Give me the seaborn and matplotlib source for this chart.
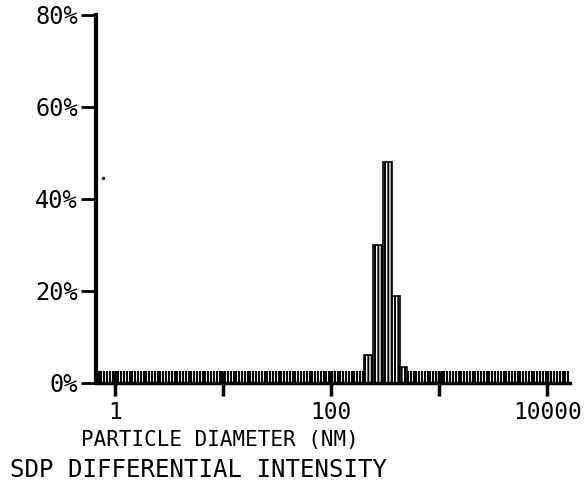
import seaborn as sns
import matplotlib
matplotlib.use("Agg")
import matplotlib.pyplot as plt
from matplotlib.ticker import FixedLocator, NullFormatter
import numpy as np
import pandas as pd

# size distribution
diameter_nm = [222, 270, 334, 400, 479]
intensity_pct = [6, 30, 48, 19, 3.5]

# lone dot near the y axis
stray_d = [0.78]
stray_pct = [44.5]

x_ticks = [1, 10, 100, 1000, 10000]
x_labels = ["1", "", "100", "", "10000"]
y_ticks = [0, 20, 40, 60, 80]
y_labels = ["0%", "20%", "40%", "60%", "80%"]

sns.set_style("white")
plt.rcParams["font.family"] = ["DejaVu Sans Mono", "DejaVu Sans"]
plt.rcParams["hatch.linewidth"] = 1.4
plt.rcParams["text.color"] = "black"
plt.rcParams["axes.edgecolor"] = "black"
plt.rcParams["xtick.color"] = "black"
plt.rcParams["ytick.color"] = "black"

df = pd.DataFrame({"diameter": diameter_nm, "intensity": intensity_pct})

# bin edges in log10 units, midway between neighbouring centres
logc = np.log10(df.diameter.values)
mids = (logc[1:] + logc[:-1]) / 2
edges = np.concatenate([[logc[0] - (mids[0] - logc[0])], mids,
                        [logc[-1] + (logc[-1] - mids[-1]) * 0.6]])

fig = plt.figure(figsize=(5.88, 4.91), dpi=100)
ax = fig.add_axes([0.163, 0.22, 0.807, 0.7495])

sns.histplot(data=df, x="diameter", weights="intensity", bins=list(edges),
             log_scale=True, color="white", edgecolor="black",
             linewidth=1.2, alpha=1, ax=ax)
for p in ax.patches:
    p.set_hatch("|||||")
sns.scatterplot(x=stray_d, y=stray_pct, s=5, color="black",
                edgecolor="black", ax=ax)

ax.set_xscale("log")
ax.set_xlim(0.667, 16300)
ax.set_ylim(0, 80)
ax.set_xticks(x_ticks)
ax.set_xticklabels(x_labels)
# printer-style dashed baseline
ax.xaxis.set_minor_locator(FixedLocator(10 ** np.arange(-0.15, 4.2, 0.026)))
ax.xaxis.set_minor_formatter(NullFormatter())
ax.set_yticks(y_ticks)
ax.set_yticklabels(y_labels)
ax.set_xlabel("")
ax.set_ylabel("")

for side in ["top", "right"]:
    ax.spines[side].set_visible(False)
ax.spines["left"].set_linewidth(3)
ax.spines["bottom"].set_linewidth(2.5)
ax.tick_params(axis="x", which="major", bottom=True, direction="inout",
               length=18, width=2.5, labelsize=16.5, pad=4)
ax.tick_params(axis="x", which="minor", bottom=True, direction="in",
               length=9, width=1.5)
ax.tick_params(axis="y", left=True, direction="out", length=11, width=2,
               labelsize=17, pad=2)

fig.text(0.374, 0.104, "PARTICLE DIAMETER (NM)", fontsize=15,
         ha="center", va="center")
fig.text(0.338, 0.043, "SDP DIFFERENTIAL INTENSITY", fontsize=17.3,
         ha="center", va="center")

fig.savefig("out.png", dpi=100)
plt.close()
